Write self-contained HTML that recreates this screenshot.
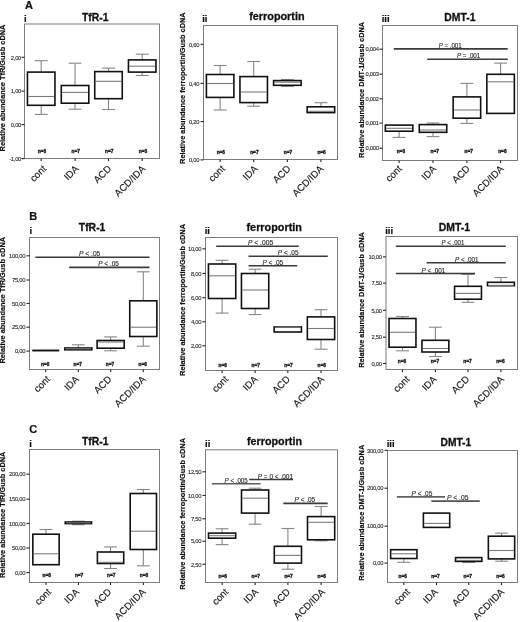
<!DOCTYPE html>
<html><head><meta charset="utf-8"><style>
html,body{margin:0;padding:0;background:#fff;}
svg{display:block;filter:grayscale(1) blur(0.3px);}
text{font-family:"Liberation Sans", sans-serif;}
.tk{font-size:5.8px;fill:#2a2a2a;stroke:#2a2a2a;stroke-width:0.12;letter-spacing:-0.25px;text-anchor:end;}
.nl{font-size:4.8px;font-weight:bold;fill:#1a1a1a;stroke:#1a1a1a;stroke-width:0.35;text-anchor:middle;}
.xl{font-size:9.7px;fill:#1a1a1a;stroke:#1a1a1a;stroke-width:0.15;text-anchor:end;}
.pl{font-size:7px;fill:#2a2a2a;stroke:#2a2a2a;stroke-width:0.15;}
.tt{font-size:11px;font-weight:bold;fill:#111;stroke:#111;stroke-width:0.3;}
.rn{font-size:9.5px;font-weight:bold;fill:#111;stroke:#111;stroke-width:0.2;}
.lt{font-size:11px;font-weight:bold;fill:#111;stroke:#111;stroke-width:0.2;}
.yl{font-size:7.6px;font-weight:bold;fill:#111;stroke:#111;stroke-width:0.2;}
</style></head><body>
<svg width="520" height="622" viewBox="0 0 520 622">
<rect width="520" height="622" fill="#fff"/>
<rect x="24.5" y="24" width="135" height="134.5" fill="none" stroke="#7c7c7c" stroke-width="1.0"/>
<line x1="21.5" y1="57.3" x2="24.5" y2="57.3" stroke="#222" stroke-width="1.1"/>
<text x="21.1" y="59.5" class="tk">2,00</text>
<line x1="21.5" y1="91.2" x2="24.5" y2="91.2" stroke="#222" stroke-width="1.1"/>
<text x="21.1" y="93.4" class="tk">1,00</text>
<line x1="21.5" y1="124.6" x2="24.5" y2="124.6" stroke="#222" stroke-width="1.1"/>
<text x="21.1" y="126.8" class="tk">0,00</text>
<line x1="21.5" y1="158.6" x2="24.5" y2="158.6" stroke="#222" stroke-width="1.1"/>
<text x="21.1" y="160.8" class="tk">-1,00</text>
<line x1="41.2" y1="158.5" x2="41.2" y2="161.1" stroke="#222" stroke-width="1.1"/>
<text class="nl" x="41.9" y="153.1">n=6</text>
<text class="xl" transform="translate(46.85,169.4) rotate(-45)">cont</text>
<line x1="75.05" y1="158.5" x2="75.05" y2="161.1" stroke="#222" stroke-width="1.1"/>
<text class="nl" x="75.75" y="153.1">n=7</text>
<text class="xl" transform="translate(79.35,169.4) rotate(-45)">IDA</text>
<line x1="108.5" y1="158.5" x2="108.5" y2="161.1" stroke="#222" stroke-width="1.1"/>
<text class="nl" x="109.2" y="153.1">n=7</text>
<text class="xl" transform="translate(112,169.4) rotate(-45)">ACD</text>
<line x1="142.2" y1="158.5" x2="142.2" y2="161.1" stroke="#222" stroke-width="1.1"/>
<text class="nl" x="142.9" y="153.1">n=6</text>
<text class="xl" transform="translate(146.1,169.4) rotate(-45)">ACD/IDA</text>
<line x1="41.2" y1="60.7" x2="41.2" y2="72.1" stroke="#868686" stroke-width="1.1"/>
<line x1="34.8" y1="60.7" x2="47.6" y2="60.7" stroke="#868686" stroke-width="1.1"/>
<line x1="41.2" y1="105.3" x2="41.2" y2="114.4" stroke="#868686" stroke-width="1.1"/>
<line x1="34.8" y1="114.4" x2="47.6" y2="114.4" stroke="#868686" stroke-width="1.1"/>
<rect x="27.45" y="72.1" width="27.5" height="33.2" fill="none" stroke="#111" stroke-width="1.6"/>
<line x1="28.25" y1="96.5" x2="54.15" y2="96.5" stroke="#7a7a7a" stroke-width="1.1"/>
<line x1="75.05" y1="63.2" x2="75.05" y2="85.5" stroke="#868686" stroke-width="1.1"/>
<line x1="68.65" y1="63.2" x2="81.45" y2="63.2" stroke="#868686" stroke-width="1.1"/>
<line x1="75.05" y1="103.2" x2="75.05" y2="109.2" stroke="#868686" stroke-width="1.1"/>
<line x1="68.65" y1="109.2" x2="81.45" y2="109.2" stroke="#868686" stroke-width="1.1"/>
<rect x="61.3" y="85.5" width="27.5" height="17.7" fill="none" stroke="#111" stroke-width="1.6"/>
<line x1="62.1" y1="92.4" x2="88" y2="92.4" stroke="#7a7a7a" stroke-width="1.1"/>
<line x1="108.5" y1="68.1" x2="108.5" y2="71.6" stroke="#868686" stroke-width="1.1"/>
<line x1="102.1" y1="68.1" x2="114.9" y2="68.1" stroke="#868686" stroke-width="1.1"/>
<line x1="108.5" y1="98.7" x2="108.5" y2="109.5" stroke="#868686" stroke-width="1.1"/>
<line x1="102.1" y1="109.5" x2="114.9" y2="109.5" stroke="#868686" stroke-width="1.1"/>
<rect x="94.75" y="71.6" width="27.5" height="27.1" fill="none" stroke="#111" stroke-width="1.6"/>
<line x1="95.55" y1="81.3" x2="121.45" y2="81.3" stroke="#7a7a7a" stroke-width="1.1"/>
<line x1="142.2" y1="54.2" x2="142.2" y2="59.9" stroke="#868686" stroke-width="1.1"/>
<line x1="135.8" y1="54.2" x2="148.6" y2="54.2" stroke="#868686" stroke-width="1.1"/>
<line x1="142.2" y1="72.1" x2="142.2" y2="75.5" stroke="#868686" stroke-width="1.1"/>
<line x1="135.8" y1="75.5" x2="148.6" y2="75.5" stroke="#868686" stroke-width="1.1"/>
<rect x="128.45" y="59.9" width="27.5" height="12.2" fill="none" stroke="#111" stroke-width="1.6"/>
<line x1="129.25" y1="66.2" x2="155.15" y2="66.2" stroke="#7a7a7a" stroke-width="1.1"/>
<text class="tt" x="82" y="21.1" textLength="26.5" lengthAdjust="spacingAndGlyphs">TfR-1</text>
<text class="rn" x="23.9" y="21.7">i</text>
<text class="lt" x="25" y="9.2">A</text>
<text class="yl" transform="translate(5.3,151.4) rotate(-90)" textLength="126.8" lengthAdjust="spacingAndGlyphs">Relative abundance TfR/Gusb cDNA</text>
<rect x="203.5" y="25.5" width="134" height="134" fill="none" stroke="#7c7c7c" stroke-width="1.0"/>
<line x1="200.5" y1="44.3" x2="203.5" y2="44.3" stroke="#222" stroke-width="1.1"/>
<text x="199.2" y="46.5" class="tk">0,60</text>
<line x1="200.5" y1="83.4" x2="203.5" y2="83.4" stroke="#222" stroke-width="1.1"/>
<text x="199.2" y="85.6" class="tk">0,40</text>
<line x1="200.5" y1="121.6" x2="203.5" y2="121.6" stroke="#222" stroke-width="1.1"/>
<text x="199.2" y="123.8" class="tk">0,20</text>
<line x1="200.5" y1="159.9" x2="203.5" y2="159.9" stroke="#222" stroke-width="1.1"/>
<text x="199.2" y="162.1" class="tk">0,00</text>
<line x1="220.15" y1="159.5" x2="220.15" y2="162.1" stroke="#222" stroke-width="1.1"/>
<text class="nl" x="220.85" y="153.6">n=6</text>
<text class="xl" transform="translate(225.55,169.4) rotate(-45)">cont</text>
<line x1="253.7" y1="159.5" x2="253.7" y2="162.1" stroke="#222" stroke-width="1.1"/>
<text class="nl" x="254.4" y="153.6">n=7</text>
<text class="xl" transform="translate(258.2,169.4) rotate(-45)">IDA</text>
<line x1="287.35" y1="159.5" x2="287.35" y2="162.1" stroke="#222" stroke-width="1.1"/>
<text class="nl" x="288.05" y="153.6">n=7</text>
<text class="xl" transform="translate(291.25,169.4) rotate(-45)">ACD</text>
<line x1="320.9" y1="159.5" x2="320.9" y2="162.1" stroke="#222" stroke-width="1.1"/>
<text class="nl" x="321.6" y="153.6">n=6</text>
<text class="xl" transform="translate(324,169.4) rotate(-45)">ACD/IDA</text>
<line x1="220.15" y1="65.5" x2="220.15" y2="74.5" stroke="#868686" stroke-width="1.1"/>
<line x1="213.75" y1="65.5" x2="226.55" y2="65.5" stroke="#868686" stroke-width="1.1"/>
<line x1="220.15" y1="97.4" x2="220.15" y2="110" stroke="#868686" stroke-width="1.1"/>
<line x1="213.75" y1="110" x2="226.55" y2="110" stroke="#868686" stroke-width="1.1"/>
<rect x="206.4" y="74.5" width="27.5" height="22.9" fill="none" stroke="#111" stroke-width="1.6"/>
<line x1="207.2" y1="83.5" x2="233.1" y2="83.5" stroke="#7a7a7a" stroke-width="1.1"/>
<line x1="253.7" y1="61.5" x2="253.7" y2="76.6" stroke="#868686" stroke-width="1.1"/>
<line x1="247.3" y1="61.5" x2="260.1" y2="61.5" stroke="#868686" stroke-width="1.1"/>
<line x1="253.7" y1="102.6" x2="253.7" y2="106.2" stroke="#868686" stroke-width="1.1"/>
<line x1="247.3" y1="106.2" x2="260.1" y2="106.2" stroke="#868686" stroke-width="1.1"/>
<rect x="239.95" y="76.6" width="27.5" height="26" fill="none" stroke="#111" stroke-width="1.6"/>
<line x1="240.75" y1="92" x2="266.65" y2="92" stroke="#7a7a7a" stroke-width="1.1"/>
<line x1="287.35" y1="79.6" x2="287.35" y2="80.6" stroke="#868686" stroke-width="1.1"/>
<line x1="280.95" y1="79.6" x2="293.75" y2="79.6" stroke="#868686" stroke-width="1.1"/>
<line x1="287.35" y1="85.3" x2="287.35" y2="86.4" stroke="#868686" stroke-width="1.1"/>
<line x1="280.95" y1="86.4" x2="293.75" y2="86.4" stroke="#868686" stroke-width="1.1"/>
<rect x="273.6" y="80.6" width="27.5" height="4.7" fill="none" stroke="#111" stroke-width="1.6"/>
<line x1="274.4" y1="82.2" x2="300.3" y2="82.2" stroke="#7a7a7a" stroke-width="1.1"/>
<line x1="320.9" y1="102.7" x2="320.9" y2="106.8" stroke="#868686" stroke-width="1.1"/>
<line x1="314.5" y1="102.7" x2="327.3" y2="102.7" stroke="#868686" stroke-width="1.1"/>
<rect x="307.15" y="106.8" width="27.5" height="5.8" fill="none" stroke="#111" stroke-width="1.6"/>
<line x1="307.95" y1="111.3" x2="333.85" y2="111.3" stroke="#7a7a7a" stroke-width="1.1"/>
<text class="tt" x="249.2" y="20.2" textLength="55.4" lengthAdjust="spacingAndGlyphs">ferroportin</text>
<text class="rn" x="202.2" y="21.6">ii</text>
<text class="yl" transform="translate(185.4,163.9) rotate(-90)" textLength="151.5" lengthAdjust="spacingAndGlyphs">Relative abundance ferroportin/Gusb cDNA</text>
<rect x="382.5" y="25.5" width="135" height="135" fill="none" stroke="#7c7c7c" stroke-width="1.0"/>
<line x1="379.5" y1="49.2" x2="382.5" y2="49.2" stroke="#222" stroke-width="1.1"/>
<text x="378.7" y="51.4" class="tk">0,004</text>
<line x1="379.5" y1="74.2" x2="382.5" y2="74.2" stroke="#222" stroke-width="1.1"/>
<text x="378.7" y="76.4" class="tk">0,003</text>
<line x1="379.5" y1="98.8" x2="382.5" y2="98.8" stroke="#222" stroke-width="1.1"/>
<text x="378.7" y="101" class="tk">0,002</text>
<line x1="379.5" y1="123.1" x2="382.5" y2="123.1" stroke="#222" stroke-width="1.1"/>
<text x="378.7" y="125.3" class="tk">0,001</text>
<line x1="379.5" y1="148.2" x2="382.5" y2="148.2" stroke="#222" stroke-width="1.1"/>
<text x="378.7" y="150.4" class="tk">0,000</text>
<line x1="399.1" y1="160.5" x2="399.1" y2="163.1" stroke="#222" stroke-width="1.1"/>
<text class="nl" x="400.9" y="153.1">n=6</text>
<text class="xl" transform="translate(402.5,169.4) rotate(-45)">cont</text>
<line x1="433" y1="160.5" x2="433" y2="163.1" stroke="#222" stroke-width="1.1"/>
<text class="nl" x="434.8" y="153.1">n=7</text>
<text class="xl" transform="translate(436.9,169.4) rotate(-45)">IDA</text>
<line x1="466.9" y1="160.5" x2="466.9" y2="163.1" stroke="#222" stroke-width="1.1"/>
<text class="nl" x="468.7" y="153.1">n=7</text>
<text class="xl" transform="translate(470.55,169.4) rotate(-45)">ACD</text>
<line x1="500.6" y1="160.5" x2="500.6" y2="163.1" stroke="#222" stroke-width="1.1"/>
<text class="nl" x="502.4" y="153.1">n=6</text>
<text class="xl" transform="translate(504.25,169.4) rotate(-45)">ACD/IDA</text>
<line x1="399.1" y1="131.2" x2="399.1" y2="137.4" stroke="#868686" stroke-width="1.1"/>
<line x1="392.7" y1="137.4" x2="405.5" y2="137.4" stroke="#868686" stroke-width="1.1"/>
<rect x="385.35" y="125.1" width="27.5" height="6.1" fill="none" stroke="#111" stroke-width="1.6"/>
<line x1="386.15" y1="128.3" x2="412.05" y2="128.3" stroke="#7a7a7a" stroke-width="1.1"/>
<line x1="433" y1="123" x2="433" y2="124.6" stroke="#868686" stroke-width="1.1"/>
<line x1="426.6" y1="123" x2="439.4" y2="123" stroke="#868686" stroke-width="1.1"/>
<line x1="433" y1="132.3" x2="433" y2="136.6" stroke="#868686" stroke-width="1.1"/>
<line x1="426.6" y1="136.6" x2="439.4" y2="136.6" stroke="#868686" stroke-width="1.1"/>
<rect x="419.25" y="124.6" width="27.5" height="7.7" fill="none" stroke="#111" stroke-width="1.6"/>
<line x1="420.05" y1="130" x2="445.95" y2="130" stroke="#7a7a7a" stroke-width="1.1"/>
<line x1="466.9" y1="83.4" x2="466.9" y2="96.9" stroke="#868686" stroke-width="1.1"/>
<line x1="460.5" y1="83.4" x2="473.3" y2="83.4" stroke="#868686" stroke-width="1.1"/>
<line x1="466.9" y1="118.2" x2="466.9" y2="123.4" stroke="#868686" stroke-width="1.1"/>
<line x1="460.5" y1="123.4" x2="473.3" y2="123.4" stroke="#868686" stroke-width="1.1"/>
<rect x="453.15" y="96.9" width="27.5" height="21.3" fill="none" stroke="#111" stroke-width="1.6"/>
<line x1="453.95" y1="110" x2="479.85" y2="110" stroke="#7a7a7a" stroke-width="1.1"/>
<line x1="500.6" y1="63.1" x2="500.6" y2="74.3" stroke="#868686" stroke-width="1.1"/>
<line x1="494.2" y1="63.1" x2="507" y2="63.1" stroke="#868686" stroke-width="1.1"/>
<rect x="486.85" y="74.3" width="27.5" height="39.1" fill="none" stroke="#111" stroke-width="1.6"/>
<line x1="487.65" y1="81.8" x2="513.55" y2="81.8" stroke="#7a7a7a" stroke-width="1.1"/>
<line x1="393.8" y1="48.9" x2="507.7" y2="48.9" stroke="#3a3a3a" stroke-width="1.6"/>
<text class="pl" x="438.7" y="47.9" textLength="23" lengthAdjust="spacingAndGlyphs"><tspan font-style="italic">P</tspan> = .001</text>
<line x1="427.2" y1="59.2" x2="507.7" y2="59.2" stroke="#3a3a3a" stroke-width="1.6"/>
<text class="pl" x="456.9" y="58.2" textLength="23.4" lengthAdjust="spacingAndGlyphs"><tspan font-style="italic">P</tspan> = .001</text>
<text class="tt" x="444.3" y="21.2" textLength="31.2" lengthAdjust="spacingAndGlyphs">DMT-1</text>
<text class="rn" x="381.7" y="21.8">iii</text>
<text class="yl" transform="translate(363.5,157.9) rotate(-90)" textLength="136" lengthAdjust="spacingAndGlyphs">Relative abundance DMT-1/Gusb cDNA</text>
<rect x="29.5" y="237.5" width="130" height="132" fill="none" stroke="#7c7c7c" stroke-width="1.0"/>
<line x1="26.5" y1="255.8" x2="29.5" y2="255.8" stroke="#222" stroke-width="1.1"/>
<text x="25.2" y="258" class="tk">100,00</text>
<line x1="26.5" y1="280" x2="29.5" y2="280" stroke="#222" stroke-width="1.1"/>
<text x="25.2" y="282.2" class="tk">75,00</text>
<line x1="26.5" y1="303.4" x2="29.5" y2="303.4" stroke="#222" stroke-width="1.1"/>
<text x="25.2" y="305.6" class="tk">50,00</text>
<line x1="26.5" y1="327.2" x2="29.5" y2="327.2" stroke="#222" stroke-width="1.1"/>
<text x="25.2" y="329.4" class="tk">25,00</text>
<line x1="26.5" y1="351.1" x2="29.5" y2="351.1" stroke="#222" stroke-width="1.1"/>
<text x="25.2" y="353.3" class="tk">0,00</text>
<line x1="45.75" y1="369.5" x2="45.75" y2="372.1" stroke="#222" stroke-width="1.1"/>
<text class="nl" x="45.15" y="366">n=6</text>
<text class="xl" transform="translate(50.65,379.9) rotate(-45)">cont</text>
<line x1="78.3" y1="369.5" x2="78.3" y2="372.1" stroke="#222" stroke-width="1.1"/>
<text class="nl" x="77.7" y="366">n=7</text>
<text class="xl" transform="translate(79.6,379.9) rotate(-45)">IDA</text>
<line x1="110.65" y1="369.5" x2="110.65" y2="372.1" stroke="#222" stroke-width="1.1"/>
<text class="nl" x="110.05" y="366">n=7</text>
<text class="xl" transform="translate(112.15,379.9) rotate(-45)">ACD</text>
<line x1="143.3" y1="369.5" x2="143.3" y2="372.1" stroke="#222" stroke-width="1.1"/>
<text class="nl" x="142.7" y="366">n=6</text>
<text class="xl" transform="translate(146.2,379.9) rotate(-45)">ACD/IDA</text>
<line x1="32.25" y1="350.5" x2="59.25" y2="350.5" stroke="#111" stroke-width="1.9"/>
<line x1="78.3" y1="344.8" x2="78.3" y2="348" stroke="#868686" stroke-width="1.1"/>
<line x1="71.9" y1="344.8" x2="84.7" y2="344.8" stroke="#868686" stroke-width="1.1"/>
<rect x="64.75" y="348" width="27.1" height="1.8" fill="none" stroke="#111" stroke-width="1.6"/>
<line x1="65.55" y1="348.8" x2="91.05" y2="348.8" stroke="#7a7a7a" stroke-width="1.1"/>
<line x1="110.65" y1="336.9" x2="110.65" y2="340.5" stroke="#868686" stroke-width="1.1"/>
<line x1="104.25" y1="336.9" x2="117.05" y2="336.9" stroke="#868686" stroke-width="1.1"/>
<line x1="110.65" y1="348.2" x2="110.65" y2="350.8" stroke="#868686" stroke-width="1.1"/>
<line x1="104.25" y1="350.8" x2="117.05" y2="350.8" stroke="#868686" stroke-width="1.1"/>
<rect x="97.1" y="340.5" width="27.1" height="7.7" fill="none" stroke="#111" stroke-width="1.6"/>
<line x1="97.9" y1="342" x2="123.4" y2="342" stroke="#7a7a7a" stroke-width="1.1"/>
<line x1="143.3" y1="271.8" x2="143.3" y2="300.8" stroke="#868686" stroke-width="1.1"/>
<line x1="136.9" y1="271.8" x2="149.7" y2="271.8" stroke="#868686" stroke-width="1.1"/>
<line x1="143.3" y1="336.5" x2="143.3" y2="346.2" stroke="#868686" stroke-width="1.1"/>
<line x1="136.9" y1="346.2" x2="149.7" y2="346.2" stroke="#868686" stroke-width="1.1"/>
<rect x="129.75" y="300.8" width="27.1" height="35.7" fill="none" stroke="#111" stroke-width="1.6"/>
<line x1="130.55" y1="327.2" x2="156.05" y2="327.2" stroke="#7a7a7a" stroke-width="1.1"/>
<line x1="35.4" y1="257.2" x2="149.5" y2="257.2" stroke="#3a3a3a" stroke-width="1.6"/>
<text class="pl" x="79" y="256.2" textLength="21.3" lengthAdjust="spacingAndGlyphs"><tspan font-style="italic">P</tspan> < .05</text>
<line x1="69.2" y1="267.4" x2="149.5" y2="267.4" stroke="#3a3a3a" stroke-width="1.6"/>
<text class="pl" x="98.2" y="266.4" textLength="20.7" lengthAdjust="spacingAndGlyphs"><tspan font-style="italic">P</tspan> < .05</text>
<text class="tt" x="78.8" y="230.8" textLength="26.6" lengthAdjust="spacingAndGlyphs">TfR-1</text>
<text class="rn" x="29.6" y="233.8">i</text>
<text class="lt" x="29.2" y="220.4">B</text>
<text class="yl" transform="translate(5.3,363.6) rotate(-90)" textLength="126.7" lengthAdjust="spacingAndGlyphs">Relative abundance TfR/Gusb cDNA</text>
<rect x="205.5" y="237.5" width="132" height="133" fill="none" stroke="#7c7c7c" stroke-width="1.0"/>
<line x1="202.5" y1="248.8" x2="205.5" y2="248.8" stroke="#222" stroke-width="1.1"/>
<text x="201.2" y="251" class="tk">10,00</text>
<line x1="202.5" y1="273.4" x2="205.5" y2="273.4" stroke="#222" stroke-width="1.1"/>
<text x="201.2" y="275.6" class="tk">8,00</text>
<line x1="202.5" y1="297.7" x2="205.5" y2="297.7" stroke="#222" stroke-width="1.1"/>
<text x="201.2" y="299.9" class="tk">6,00</text>
<line x1="202.5" y1="321.8" x2="205.5" y2="321.8" stroke="#222" stroke-width="1.1"/>
<text x="201.2" y="324" class="tk">4,00</text>
<line x1="202.5" y1="345.8" x2="205.5" y2="345.8" stroke="#222" stroke-width="1.1"/>
<text x="201.2" y="348" class="tk">2,00</text>
<line x1="222.1" y1="370.5" x2="222.1" y2="373.1" stroke="#222" stroke-width="1.1"/>
<text class="nl" x="222.8" y="366.7">n=6</text>
<text class="xl" transform="translate(229,379.9) rotate(-45)">cont</text>
<line x1="255.1" y1="370.5" x2="255.1" y2="373.1" stroke="#222" stroke-width="1.1"/>
<text class="nl" x="255.8" y="366.7">n=7</text>
<text class="xl" transform="translate(258.25,379.9) rotate(-45)">IDA</text>
<line x1="287.8" y1="370.5" x2="287.8" y2="373.1" stroke="#222" stroke-width="1.1"/>
<text class="nl" x="288.5" y="366.7">n=7</text>
<text class="xl" transform="translate(290.7,379.9) rotate(-45)">ACD</text>
<line x1="321" y1="370.5" x2="321" y2="373.1" stroke="#222" stroke-width="1.1"/>
<text class="nl" x="321.7" y="366.7">n=6</text>
<text class="xl" transform="translate(324.9,379.9) rotate(-45)">ACD/IDA</text>
<line x1="222.1" y1="260.3" x2="222.1" y2="264" stroke="#868686" stroke-width="1.1"/>
<line x1="215.7" y1="260.3" x2="228.5" y2="260.3" stroke="#868686" stroke-width="1.1"/>
<line x1="222.1" y1="298.5" x2="222.1" y2="313.1" stroke="#868686" stroke-width="1.1"/>
<line x1="215.7" y1="313.1" x2="228.5" y2="313.1" stroke="#868686" stroke-width="1.1"/>
<rect x="208.45" y="264" width="27.3" height="34.5" fill="none" stroke="#111" stroke-width="1.6"/>
<line x1="209.25" y1="275.8" x2="234.95" y2="275.8" stroke="#7a7a7a" stroke-width="1.1"/>
<line x1="255.1" y1="269.2" x2="255.1" y2="273.5" stroke="#868686" stroke-width="1.1"/>
<line x1="248.7" y1="269.2" x2="261.5" y2="269.2" stroke="#868686" stroke-width="1.1"/>
<line x1="255.1" y1="308.5" x2="255.1" y2="314.6" stroke="#868686" stroke-width="1.1"/>
<line x1="248.7" y1="314.6" x2="261.5" y2="314.6" stroke="#868686" stroke-width="1.1"/>
<rect x="241.45" y="273.5" width="27.3" height="35" fill="none" stroke="#111" stroke-width="1.6"/>
<line x1="242.25" y1="290" x2="267.95" y2="290" stroke="#7a7a7a" stroke-width="1.1"/>
<rect x="274.15" y="326.9" width="27.3" height="5.1" fill="none" stroke="#111" stroke-width="1.6"/>
<line x1="274.95" y1="327" x2="300.65" y2="327" stroke="#7a7a7a" stroke-width="1.1"/>
<line x1="321" y1="309.7" x2="321" y2="316.9" stroke="#868686" stroke-width="1.1"/>
<line x1="314.6" y1="309.7" x2="327.4" y2="309.7" stroke="#868686" stroke-width="1.1"/>
<line x1="321" y1="339.5" x2="321" y2="349.2" stroke="#868686" stroke-width="1.1"/>
<line x1="314.6" y1="349.2" x2="327.4" y2="349.2" stroke="#868686" stroke-width="1.1"/>
<rect x="307.35" y="316.9" width="27.3" height="22.6" fill="none" stroke="#111" stroke-width="1.6"/>
<line x1="308.15" y1="328.5" x2="333.85" y2="328.5" stroke="#7a7a7a" stroke-width="1.1"/>
<line x1="216.2" y1="246.2" x2="298.8" y2="246.2" stroke="#3a3a3a" stroke-width="1.6"/>
<text class="pl" x="248" y="245.2" textLength="25.2" lengthAdjust="spacingAndGlyphs"><tspan font-style="italic">P</tspan> < .005</text>
<line x1="248.5" y1="256.2" x2="327.8" y2="256.2" stroke="#3a3a3a" stroke-width="1.6"/>
<text class="pl" x="277.8" y="255.2" textLength="20.7" lengthAdjust="spacingAndGlyphs"><tspan font-style="italic">P</tspan> < .05</text>
<line x1="248.5" y1="265.7" x2="297.3" y2="265.7" stroke="#3a3a3a" stroke-width="1.6"/>
<text class="pl" x="262.4" y="264.7" textLength="20.8" lengthAdjust="spacingAndGlyphs"><tspan font-style="italic">P</tspan> < .05</text>
<text class="tt" x="246.5" y="230.5" textLength="55.4" lengthAdjust="spacingAndGlyphs">ferroportin</text>
<text class="rn" x="204.7" y="233.5">ii</text>
<text class="yl" transform="translate(185.4,375.9) rotate(-90)" textLength="151.9" lengthAdjust="spacingAndGlyphs">Relative abundance ferroportin/Gusb cDNA</text>
<rect x="386" y="236.5" width="131.5" height="133" fill="none" stroke="#7c7c7c" stroke-width="1.0"/>
<line x1="383" y1="256.9" x2="386" y2="256.9" stroke="#222" stroke-width="1.1"/>
<text x="381.7" y="259.1" class="tk">10,00</text>
<line x1="383" y1="283.1" x2="386" y2="283.1" stroke="#222" stroke-width="1.1"/>
<text x="381.7" y="285.3" class="tk">7,50</text>
<line x1="383" y1="310.3" x2="386" y2="310.3" stroke="#222" stroke-width="1.1"/>
<text x="381.7" y="312.5" class="tk">5,00</text>
<line x1="383" y1="337.2" x2="386" y2="337.2" stroke="#222" stroke-width="1.1"/>
<text x="381.7" y="339.4" class="tk">2,50</text>
<line x1="383" y1="363.5" x2="386" y2="363.5" stroke="#222" stroke-width="1.1"/>
<text x="381.7" y="365.7" class="tk">0,00</text>
<line x1="402.5" y1="369.5" x2="402.5" y2="372.1" stroke="#222" stroke-width="1.1"/>
<text class="nl" x="402" y="363.4">n=6</text>
<text class="xl" transform="translate(410.2,379.9) rotate(-45)">cont</text>
<line x1="435.4" y1="369.5" x2="435.4" y2="372.1" stroke="#222" stroke-width="1.1"/>
<text class="nl" x="434.9" y="363.4">n=7</text>
<text class="xl" transform="translate(437.3,379.9) rotate(-45)">IDA</text>
<line x1="468" y1="369.5" x2="468" y2="372.1" stroke="#222" stroke-width="1.1"/>
<text class="nl" x="467.5" y="363.4">n=7</text>
<text class="xl" transform="translate(469.9,379.9) rotate(-45)">ACD</text>
<line x1="500.9" y1="369.5" x2="500.9" y2="372.1" stroke="#222" stroke-width="1.1"/>
<text class="nl" x="500.4" y="363.4">n=6</text>
<text class="xl" transform="translate(504.55,379.9) rotate(-45)">ACD/IDA</text>
<line x1="402.5" y1="316.5" x2="402.5" y2="318.5" stroke="#868686" stroke-width="1.1"/>
<line x1="396.1" y1="316.5" x2="408.9" y2="316.5" stroke="#868686" stroke-width="1.1"/>
<line x1="402.5" y1="347.2" x2="402.5" y2="350.8" stroke="#868686" stroke-width="1.1"/>
<line x1="396.1" y1="350.8" x2="408.9" y2="350.8" stroke="#868686" stroke-width="1.1"/>
<rect x="389.05" y="318.5" width="26.9" height="28.7" fill="none" stroke="#111" stroke-width="1.6"/>
<line x1="389.85" y1="332.3" x2="415.15" y2="332.3" stroke="#7a7a7a" stroke-width="1.1"/>
<line x1="435.4" y1="327.2" x2="435.4" y2="340.3" stroke="#868686" stroke-width="1.1"/>
<line x1="429" y1="327.2" x2="441.8" y2="327.2" stroke="#868686" stroke-width="1.1"/>
<line x1="435.4" y1="352" x2="435.4" y2="356.5" stroke="#868686" stroke-width="1.1"/>
<line x1="429" y1="356.5" x2="441.8" y2="356.5" stroke="#868686" stroke-width="1.1"/>
<rect x="421.95" y="340.3" width="26.9" height="11.7" fill="none" stroke="#111" stroke-width="1.6"/>
<line x1="422.75" y1="348.5" x2="448.05" y2="348.5" stroke="#7a7a7a" stroke-width="1.1"/>
<line x1="468" y1="274.4" x2="468" y2="286.3" stroke="#868686" stroke-width="1.1"/>
<line x1="461.6" y1="274.4" x2="474.4" y2="274.4" stroke="#868686" stroke-width="1.1"/>
<line x1="468" y1="299.2" x2="468" y2="302.3" stroke="#868686" stroke-width="1.1"/>
<line x1="461.6" y1="302.3" x2="474.4" y2="302.3" stroke="#868686" stroke-width="1.1"/>
<rect x="454.55" y="286.3" width="26.9" height="12.9" fill="none" stroke="#111" stroke-width="1.6"/>
<line x1="455.35" y1="293.4" x2="480.65" y2="293.4" stroke="#7a7a7a" stroke-width="1.1"/>
<line x1="500.9" y1="277.5" x2="500.9" y2="282.3" stroke="#868686" stroke-width="1.1"/>
<line x1="494.5" y1="277.5" x2="507.3" y2="277.5" stroke="#868686" stroke-width="1.1"/>
<rect x="487.45" y="282.3" width="26.9" height="3.4" fill="none" stroke="#111" stroke-width="1.6"/>
<line x1="488.25" y1="285.6" x2="513.55" y2="285.6" stroke="#7a7a7a" stroke-width="1.1"/>
<line x1="395.8" y1="246.2" x2="505.8" y2="246.2" stroke="#3a3a3a" stroke-width="1.6"/>
<text class="pl" x="441.5" y="245.2" textLength="22.8" lengthAdjust="spacingAndGlyphs"><tspan font-style="italic">P</tspan> < .001</text>
<line x1="426.6" y1="262.8" x2="505.8" y2="262.8" stroke="#3a3a3a" stroke-width="1.6"/>
<text class="pl" x="455" y="261.8" textLength="23.5" lengthAdjust="spacingAndGlyphs"><tspan font-style="italic">P</tspan> < .001</text>
<line x1="395.8" y1="273.5" x2="475.1" y2="273.5" stroke="#3a3a3a" stroke-width="1.6"/>
<text class="pl" x="421.5" y="272.5" textLength="23.9" lengthAdjust="spacingAndGlyphs"><tspan font-style="italic">P</tspan> < .001</text>
<text class="tt" x="438.8" y="230.8" textLength="31.2" lengthAdjust="spacingAndGlyphs">DMT-1</text>
<text class="rn" x="385.2" y="233.5">iii</text>
<text class="yl" transform="translate(363.5,367.8) rotate(-90)" textLength="135.7" lengthAdjust="spacingAndGlyphs">Relative abundance DMT-1/Gusb cDNA</text>
<rect x="29.5" y="449.5" width="130" height="133" fill="none" stroke="#7c7c7c" stroke-width="1.0"/>
<line x1="26.5" y1="474.2" x2="29.5" y2="474.2" stroke="#222" stroke-width="1.1"/>
<text x="25.2" y="476.4" class="tk">200,00</text>
<line x1="26.5" y1="499.2" x2="29.5" y2="499.2" stroke="#222" stroke-width="1.1"/>
<text x="25.2" y="501.4" class="tk">150,00</text>
<line x1="26.5" y1="523.4" x2="29.5" y2="523.4" stroke="#222" stroke-width="1.1"/>
<text x="25.2" y="525.6" class="tk">100,00</text>
<line x1="26.5" y1="548" x2="29.5" y2="548" stroke="#222" stroke-width="1.1"/>
<text x="25.2" y="550.2" class="tk">50,00</text>
<line x1="26.5" y1="572.6" x2="29.5" y2="572.6" stroke="#222" stroke-width="1.1"/>
<text x="25.2" y="574.8" class="tk">0,00</text>
<line x1="46" y1="582.5" x2="46" y2="585.1" stroke="#222" stroke-width="1.1"/>
<text class="nl" x="46.7" y="577.4">n=6</text>
<text class="xl" transform="translate(51.65,592.6) rotate(-45)">cont</text>
<line x1="78.4" y1="582.5" x2="78.4" y2="585.1" stroke="#222" stroke-width="1.1"/>
<text class="nl" x="79.1" y="577.4">n=7</text>
<text class="xl" transform="translate(79.7,592.6) rotate(-45)">IDA</text>
<line x1="110.55" y1="582.5" x2="110.55" y2="585.1" stroke="#222" stroke-width="1.1"/>
<text class="nl" x="111.25" y="577.4">n=7</text>
<text class="xl" transform="translate(112.05,592.6) rotate(-45)">ACD</text>
<line x1="143.35" y1="582.5" x2="143.35" y2="585.1" stroke="#222" stroke-width="1.1"/>
<text class="nl" x="144.05" y="577.4">n=6</text>
<text class="xl" transform="translate(146.25,592.6) rotate(-45)">ACD/IDA</text>
<line x1="46" y1="529.5" x2="46" y2="534.2" stroke="#868686" stroke-width="1.1"/>
<line x1="39.6" y1="529.5" x2="52.4" y2="529.5" stroke="#868686" stroke-width="1.1"/>
<rect x="32.85" y="534.2" width="26.3" height="30.5" fill="none" stroke="#111" stroke-width="1.6"/>
<line x1="33.65" y1="553.8" x2="58.35" y2="553.8" stroke="#7a7a7a" stroke-width="1.1"/>
<line x1="78.4" y1="521.2" x2="78.4" y2="522" stroke="#868686" stroke-width="1.1"/>
<line x1="72" y1="521.2" x2="84.8" y2="521.2" stroke="#868686" stroke-width="1.1"/>
<line x1="78.4" y1="523.6" x2="78.4" y2="524.7" stroke="#868686" stroke-width="1.1"/>
<line x1="72" y1="524.7" x2="84.8" y2="524.7" stroke="#868686" stroke-width="1.1"/>
<rect x="65.25" y="522" width="26.3" height="1.6" fill="none" stroke="#111" stroke-width="1.6"/>
<line x1="66.05" y1="522.8" x2="90.75" y2="522.8" stroke="#7a7a7a" stroke-width="1.1"/>
<line x1="110.55" y1="546.9" x2="110.55" y2="552" stroke="#868686" stroke-width="1.1"/>
<line x1="104.15" y1="546.9" x2="116.95" y2="546.9" stroke="#868686" stroke-width="1.1"/>
<line x1="110.55" y1="563.5" x2="110.55" y2="568.5" stroke="#868686" stroke-width="1.1"/>
<line x1="104.15" y1="568.5" x2="116.95" y2="568.5" stroke="#868686" stroke-width="1.1"/>
<rect x="97.4" y="552" width="26.3" height="11.5" fill="none" stroke="#111" stroke-width="1.6"/>
<line x1="98.2" y1="562.3" x2="122.9" y2="562.3" stroke="#7a7a7a" stroke-width="1.1"/>
<line x1="143.35" y1="489.5" x2="143.35" y2="493.5" stroke="#868686" stroke-width="1.1"/>
<line x1="136.95" y1="489.5" x2="149.75" y2="489.5" stroke="#868686" stroke-width="1.1"/>
<line x1="143.35" y1="549.5" x2="143.35" y2="565.8" stroke="#868686" stroke-width="1.1"/>
<line x1="136.95" y1="565.8" x2="149.75" y2="565.8" stroke="#868686" stroke-width="1.1"/>
<rect x="130.2" y="493.5" width="26.3" height="56" fill="none" stroke="#111" stroke-width="1.6"/>
<line x1="131" y1="531.2" x2="155.7" y2="531.2" stroke="#7a7a7a" stroke-width="1.1"/>
<text class="tt" x="82" y="445.1" textLength="26.5" lengthAdjust="spacingAndGlyphs">TfR-1</text>
<text class="rn" x="29.3" y="446.5">i</text>
<text class="lt" x="29.2" y="432.5">C</text>
<text class="yl" transform="translate(5.3,578.1) rotate(-90)" textLength="126.5" lengthAdjust="spacingAndGlyphs">Relative abundance TfR/Gusb cDNA</text>
<rect x="205.5" y="449.8" width="132" height="132.7" fill="none" stroke="#7c7c7c" stroke-width="1.0"/>
<line x1="202.5" y1="471.8" x2="205.5" y2="471.8" stroke="#222" stroke-width="1.1"/>
<text x="201.2" y="474" class="tk">12,50</text>
<line x1="202.5" y1="495.4" x2="205.5" y2="495.4" stroke="#222" stroke-width="1.1"/>
<text x="201.2" y="497.6" class="tk">10,00</text>
<line x1="202.5" y1="518.8" x2="205.5" y2="518.8" stroke="#222" stroke-width="1.1"/>
<text x="201.2" y="521" class="tk">7,50</text>
<line x1="202.5" y1="541.2" x2="205.5" y2="541.2" stroke="#222" stroke-width="1.1"/>
<text x="201.2" y="543.4" class="tk">5,00</text>
<line x1="202.5" y1="564.3" x2="205.5" y2="564.3" stroke="#222" stroke-width="1.1"/>
<text x="201.2" y="566.5" class="tk">2,50</text>
<line x1="222.1" y1="582.5" x2="222.1" y2="585.1" stroke="#222" stroke-width="1.1"/>
<text class="nl" x="222.8" y="578.4">n=6</text>
<text class="xl" transform="translate(229,592.6) rotate(-45)">cont</text>
<line x1="255.1" y1="582.5" x2="255.1" y2="585.1" stroke="#222" stroke-width="1.1"/>
<text class="nl" x="255.8" y="578.4">n=7</text>
<text class="xl" transform="translate(259,592.6) rotate(-45)">IDA</text>
<line x1="287.9" y1="582.5" x2="287.9" y2="585.1" stroke="#222" stroke-width="1.1"/>
<text class="nl" x="288.6" y="578.4">n=7</text>
<text class="xl" transform="translate(290.8,592.6) rotate(-45)">ACD</text>
<line x1="321.1" y1="582.5" x2="321.1" y2="585.1" stroke="#222" stroke-width="1.1"/>
<text class="nl" x="321.8" y="578.4">n=6</text>
<text class="xl" transform="translate(325.6,592.6) rotate(-45)">ACD/IDA</text>
<line x1="222.1" y1="528.8" x2="222.1" y2="533.1" stroke="#868686" stroke-width="1.1"/>
<line x1="215.7" y1="528.8" x2="228.5" y2="528.8" stroke="#868686" stroke-width="1.1"/>
<line x1="222.1" y1="538.2" x2="222.1" y2="544.6" stroke="#868686" stroke-width="1.1"/>
<line x1="215.7" y1="544.6" x2="228.5" y2="544.6" stroke="#868686" stroke-width="1.1"/>
<rect x="208.5" y="533.1" width="27.2" height="5.1" fill="none" stroke="#111" stroke-width="1.6"/>
<line x1="209.3" y1="535.7" x2="234.9" y2="535.7" stroke="#7a7a7a" stroke-width="1.1"/>
<line x1="255.1" y1="488.2" x2="255.1" y2="490" stroke="#868686" stroke-width="1.1"/>
<line x1="248.7" y1="488.2" x2="261.5" y2="488.2" stroke="#868686" stroke-width="1.1"/>
<line x1="255.1" y1="513.1" x2="255.1" y2="524.2" stroke="#868686" stroke-width="1.1"/>
<line x1="248.7" y1="524.2" x2="261.5" y2="524.2" stroke="#868686" stroke-width="1.1"/>
<rect x="241.5" y="490" width="27.2" height="23.1" fill="none" stroke="#111" stroke-width="1.6"/>
<line x1="242.3" y1="498.2" x2="267.9" y2="498.2" stroke="#7a7a7a" stroke-width="1.1"/>
<line x1="287.9" y1="528.5" x2="287.9" y2="546.3" stroke="#868686" stroke-width="1.1"/>
<line x1="281.5" y1="528.5" x2="294.3" y2="528.5" stroke="#868686" stroke-width="1.1"/>
<line x1="287.9" y1="563.1" x2="287.9" y2="569.2" stroke="#868686" stroke-width="1.1"/>
<line x1="281.5" y1="569.2" x2="294.3" y2="569.2" stroke="#868686" stroke-width="1.1"/>
<rect x="274.3" y="546.3" width="27.2" height="16.8" fill="none" stroke="#111" stroke-width="1.6"/>
<line x1="275.1" y1="555.4" x2="300.7" y2="555.4" stroke="#7a7a7a" stroke-width="1.1"/>
<line x1="321.1" y1="506.5" x2="321.1" y2="516.6" stroke="#868686" stroke-width="1.1"/>
<line x1="314.7" y1="506.5" x2="327.5" y2="506.5" stroke="#868686" stroke-width="1.1"/>
<line x1="321.1" y1="539.8" x2="321.1" y2="540.8" stroke="#868686" stroke-width="1.1"/>
<line x1="314.7" y1="540.8" x2="327.5" y2="540.8" stroke="#868686" stroke-width="1.1"/>
<rect x="307.5" y="516.6" width="27.2" height="23.2" fill="none" stroke="#111" stroke-width="1.6"/>
<line x1="308.3" y1="522.3" x2="333.9" y2="522.3" stroke="#7a7a7a" stroke-width="1.1"/>
<line x1="211.8" y1="483.8" x2="260.5" y2="483.8" stroke="#5a5a5a" stroke-width="1.6"/>
<text class="pl" x="224.6" y="482.8" textLength="23.1" lengthAdjust="spacingAndGlyphs"><tspan font-style="italic">P</tspan> < .005</text>
<line x1="249.2" y1="479.5" x2="293" y2="479.5" stroke="#3a3a3a" stroke-width="1.6"/>
<text class="pl" x="257.7" y="478.5" textLength="35.3" lengthAdjust="spacingAndGlyphs"><tspan font-style="italic">P</tspan> = 0 < .001</text>
<line x1="283.3" y1="503.4" x2="327.7" y2="503.4" stroke="#3a3a3a" stroke-width="1.6"/>
<text class="pl" x="294.6" y="502.4" textLength="20.6" lengthAdjust="spacingAndGlyphs"><tspan font-style="italic">P</tspan> < .05</text>
<text class="tt" x="247" y="445" textLength="55" lengthAdjust="spacingAndGlyphs">ferroportin</text>
<text class="rn" x="205" y="447">ii</text>
<text class="yl" transform="translate(185.4,589.8) rotate(-90)" textLength="151.8" lengthAdjust="spacingAndGlyphs">Relative abundance ferroportin/Gusb cDNA</text>
<rect x="387.5" y="450.5" width="130" height="132" fill="none" stroke="#7c7c7c" stroke-width="1.0"/>
<line x1="384.5" y1="450.3" x2="387.5" y2="450.3" stroke="#222" stroke-width="1.1"/>
<text x="383.2" y="452.5" class="tk">300,00</text>
<line x1="384.5" y1="488.2" x2="387.5" y2="488.2" stroke="#222" stroke-width="1.1"/>
<text x="383.2" y="490.4" class="tk">200,00</text>
<line x1="384.5" y1="526.2" x2="387.5" y2="526.2" stroke="#222" stroke-width="1.1"/>
<text x="383.2" y="528.4" class="tk">100,00</text>
<line x1="384.5" y1="563.1" x2="387.5" y2="563.1" stroke="#222" stroke-width="1.1"/>
<text x="383.2" y="565.3" class="tk">0,00</text>
<line x1="403.8" y1="582.5" x2="403.8" y2="585.1" stroke="#222" stroke-width="1.1"/>
<text class="nl" x="402.8" y="577.5">n=6</text>
<text class="xl" transform="translate(410.7,592.6) rotate(-45)">cont</text>
<line x1="436.55" y1="582.5" x2="436.55" y2="585.1" stroke="#222" stroke-width="1.1"/>
<text class="nl" x="435.55" y="577.5">n=7</text>
<text class="xl" transform="translate(438.45,592.6) rotate(-45)">IDA</text>
<line x1="468.7" y1="582.5" x2="468.7" y2="585.1" stroke="#222" stroke-width="1.1"/>
<text class="nl" x="467.7" y="577.5">n=7</text>
<text class="xl" transform="translate(470.4,592.6) rotate(-45)">ACD</text>
<line x1="501.5" y1="582.5" x2="501.5" y2="585.1" stroke="#222" stroke-width="1.1"/>
<text class="nl" x="500.5" y="577.5">n=6</text>
<text class="xl" transform="translate(504.9,592.6) rotate(-45)">ACD/IDA</text>
<line x1="403.8" y1="558.5" x2="403.8" y2="562.3" stroke="#868686" stroke-width="1.1"/>
<line x1="397.4" y1="562.3" x2="410.2" y2="562.3" stroke="#868686" stroke-width="1.1"/>
<rect x="390.65" y="549.7" width="26.3" height="8.8" fill="none" stroke="#111" stroke-width="1.6"/>
<line x1="391.45" y1="553.8" x2="416.15" y2="553.8" stroke="#7a7a7a" stroke-width="1.1"/>
<rect x="423.4" y="513.1" width="26.3" height="14.3" fill="none" stroke="#111" stroke-width="1.6"/>
<line x1="424.2" y1="523.4" x2="448.9" y2="523.4" stroke="#7a7a7a" stroke-width="1.1"/>
<line x1="468.7" y1="561.4" x2="468.7" y2="562.5" stroke="#868686" stroke-width="1.1"/>
<line x1="462.3" y1="562.5" x2="475.1" y2="562.5" stroke="#868686" stroke-width="1.1"/>
<rect x="455.55" y="557.6" width="26.3" height="3.8" fill="none" stroke="#111" stroke-width="1.6"/>
<line x1="456.35" y1="560.4" x2="481.05" y2="560.4" stroke="#7a7a7a" stroke-width="1.1"/>
<line x1="501.5" y1="533.1" x2="501.5" y2="536.2" stroke="#868686" stroke-width="1.1"/>
<line x1="495.1" y1="533.1" x2="507.9" y2="533.1" stroke="#868686" stroke-width="1.1"/>
<line x1="501.5" y1="558.9" x2="501.5" y2="561.2" stroke="#868686" stroke-width="1.1"/>
<line x1="495.1" y1="561.2" x2="507.9" y2="561.2" stroke="#868686" stroke-width="1.1"/>
<rect x="488.35" y="536.2" width="26.3" height="22.7" fill="none" stroke="#111" stroke-width="1.6"/>
<line x1="489.15" y1="550.5" x2="513.85" y2="550.5" stroke="#7a7a7a" stroke-width="1.1"/>
<line x1="396.9" y1="496.9" x2="445" y2="496.9" stroke="#606060" stroke-width="1.6"/>
<text class="pl" x="411.5" y="495.9" textLength="20.8" lengthAdjust="spacingAndGlyphs"><tspan font-style="italic">P</tspan> < .05</text>
<line x1="431.3" y1="501.1" x2="479.7" y2="501.1" stroke="#555555" stroke-width="1.6"/>
<text class="pl" x="446.9" y="500.1" textLength="21.6" lengthAdjust="spacingAndGlyphs"><tspan font-style="italic">P</tspan> < .05</text>
<text class="tt" x="440.5" y="445.8" textLength="30.7" lengthAdjust="spacingAndGlyphs">DMT-1</text>
<text class="rn" x="386.7" y="447">iii</text>
<text class="yl" transform="translate(363.5,580.7) rotate(-90)" textLength="135.9" lengthAdjust="spacingAndGlyphs">Relative abundance DMT-1/Gusb cDNA</text>
</svg>
</body></html>
